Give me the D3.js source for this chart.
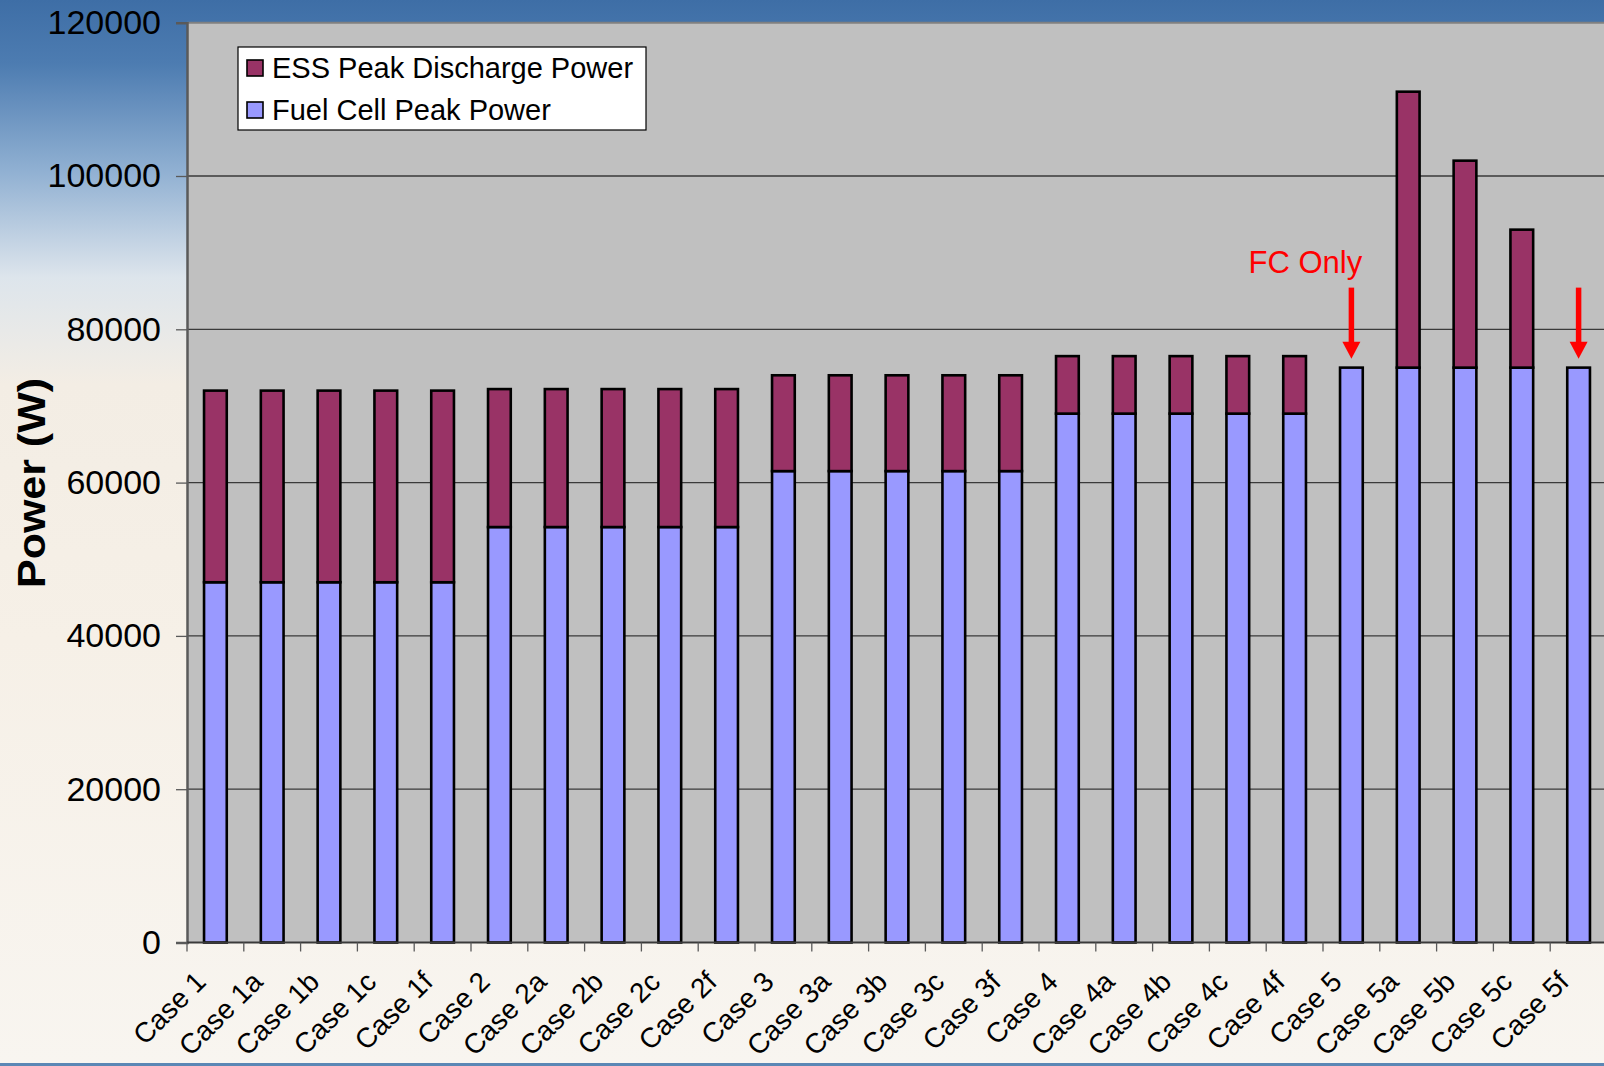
<!DOCTYPE html>
<html>
<head>
<meta charset="utf-8">
<script src="https://cdn.jsdelivr.net/npm/d3@7"></script>
<style>
    html, body { margin: 0; padding: 0; overflow: hidden; }
    svg { display: block; font-family: "Liberation Sans", Arial, sans-serif; }
</style>
</head>
<body>
<div id="chart"></div>
<script>
const categories = [
    'Case 1', 'Case 1a', 'Case 1b', 'Case 1c', 'Case 1f',
    'Case 2', 'Case 2a', 'Case 2b', 'Case 2c', 'Case 2f',
    'Case 3', 'Case 3a', 'Case 3b', 'Case 3c', 'Case 3f',
    'Case 4', 'Case 4a', 'Case 4b', 'Case 4c', 'Case 4f',
    'Case 5', 'Case 5a', 'Case 5b', 'Case 5c', 'Case 5f'
];
const fuelCellPeak = [
    47000, 47000, 47000, 47000, 47000,
    54200, 54200, 54200, 54200, 54200,
    61500, 61500, 61500, 61500, 61500,
    69000, 69000, 69000, 69000, 69000,
    75000, 75000, 75000, 75000, 75000
];
const essPeakDischarge = [
    25000, 25000, 25000, 25000, 25000,
    18000, 18000, 18000, 18000, 18000,
    12500, 12500, 12500, 12500, 12500,
    7500, 7500, 7500, 7500, 7500,
    0, 36000, 27000, 18000, 0
];
const seriesNames = ['Fuel Cell Peak Power', 'ESS Peak Discharge Power'];
const seriesColors = ['#9999ff', '#993366'];
const legendOrder = ['ESS Peak Discharge Power', 'Fuel Cell Peak Power'];
const yTicks = [0, 20000, 40000, 60000, 80000, 100000, 120000];
const fcOnlyCases = ['Case 5', 'Case 5f'];
const fcOnlyLabel = 'FC Only';

const W = 1604, H = 1066;
const plot = { left: 187, top: 22.7, right: 1607, bottom: 942.5 };

const rows = categories.map((c, i) => ({
    category: c,
    'Fuel Cell Peak Power': fuelCellPeak[i],
    'ESS Peak Discharge Power': essPeakDischarge[i]
}));
const stacked = d3.stack().keys(seriesNames)(rows);

const x = d3.scaleBand().domain(categories).range([plot.left, plot.right]);
const y = d3.scaleLinear().domain([0, 120000]).range([plot.bottom, plot.top]);
const color = d3.scaleOrdinal().domain(seriesNames).range(seriesColors);
const barW = x.bandwidth() * 0.4;

const svg = d3.select('#chart').append('svg')
    .attr('width', W)
    .attr('height', H);

// slide background
const defs = svg.append('defs');
const bg = defs.append('linearGradient')
    .attr('id', 'bg')
    .attr('x1', 0).attr('y1', 0).attr('x2', 0).attr('y2', 1);
[[0, '#3e6ea6'], [0.06, '#4d7cb1'], [0.16, '#90b0d2'], [0.26, '#dde5ec'],
 [0.36, '#f3ede4'], [0.6, '#f6f0e7'], [1, '#f8f5f0']].forEach(s =>
    bg.append('stop').attr('offset', s[0]).attr('stop-color', s[1]));

svg.append('rect').attr('width', W).attr('height', H).attr('fill', 'url(#bg)');
svg.append('rect').attr('x', 0).attr('y', H - 3).attr('width', W).attr('height', 3).attr('fill', '#5b87b5');

svg.append('rect')
    .attr('x', plot.left).attr('y', plot.top)
    .attr('width', plot.right - plot.left)
    .attr('height', plot.bottom - plot.top)
    .attr('fill', '#c0c0c0');

// gridlines
svg.append('g')
    .selectAll('line')
    .data(yTicks.slice(1, -1))
    .enter()
    .append('line')
        .attr('x1', plot.left)
        .attr('x2', plot.right)
        .attr('y1', d => y(d))
        .attr('y2', d => y(d))
        .attr('stroke', '#3a3a3a')
        .attr('stroke-width', 1.3);

svg.append('line')
    .attr('x1', plot.left).attr('x2', plot.right)
    .attr('y1', plot.top).attr('y2', plot.top)
    .attr('stroke', '#808080').attr('stroke-width', 2);

// bars
svg.append('g')
    .selectAll('g')
    .data(stacked)
    .enter()
    .append('g')
        .attr('fill', d => color(d.key))
    .selectAll('rect')
    .data(d => d.filter(p => p[1] > p[0]))
    .enter()
    .append('rect')
        .attr('x', d => x(d.data.category) + (x.bandwidth() - barW) / 2)
        .attr('y', d => y(d[1]))
        .attr('width', barW)
        .attr('height', d => y(d[0]) - y(d[1]))
        .attr('stroke', '#000')
        .attr('stroke-width', 2.6);

// y axis
const yAxis = svg.append('g')
    .attr('transform', `translate(${plot.left},0)`)
    .call(d3.axisLeft(y).tickValues(yTicks).tickFormat(d3.format('d')).tickSize(11).tickPadding(15));
yAxis.select('.domain').attr('stroke', '#5a5a5a').attr('stroke-width', 2.5);
yAxis.selectAll('.tick line').attr('stroke', '#5a5a5a').attr('stroke-width', 1.3);
yAxis.selectAll('.tick text')
    .attr('font-size', 34)
    .attr('font-family', '"Liberation Sans", Arial, sans-serif')
    .attr('fill', '#000');

// x axis: ticks sit between the bands
const boundaries = categories.map(c => x(c)).concat([plot.right]);
svg.append('line')
    .attr('x1', plot.left).attr('x2', plot.right)
    .attr('y1', plot.bottom).attr('y2', plot.bottom)
    .attr('stroke', '#3a3a3a').attr('stroke-width', 2);
svg.append('g')
    .selectAll('line')
    .data(boundaries)
    .enter()
    .append('line')
        .attr('x1', d => d).attr('x2', d => d)
        .attr('y1', plot.bottom)
        .attr('y2', plot.bottom + 9)
        .attr('stroke', '#5a5a5a')
        .attr('stroke-width', 1.3);

svg.append('g')
    .selectAll('text')
    .data(categories)
    .enter()
    .append('text')
        .attr('transform', d => `translate(${x(d) + x.bandwidth() / 2 - 8},${plot.bottom + 41}) rotate(-45)`)
        .attr('text-anchor', 'end')
        .attr('font-size', 28)
        .attr('fill', '#000')
        .text(d => d);

// axis title
svg.append('text')
    .attr('transform', `translate(45,483) rotate(-90)`)
    .attr('text-anchor', 'middle')
    .attr('font-size', 39)
    .attr('font-weight', 'bold')
    .attr('textLength', 210)
    .attr('lengthAdjust', 'spacingAndGlyphs')
    .attr('fill', '#000')
    .text('Power (W)');

// legend
const legend = svg.append('g').attr('transform', 'translate(238,47)');
legend.append('rect')
    .attr('width', 408).attr('height', 83)
    .attr('fill', '#fff')
    .attr('stroke', '#000')
    .attr('stroke-width', 1.2);
legendOrder.forEach(function(name, i) {
    legend.append('rect')
        .attr('x', 9).attr('y', 13 + i * 42)
        .attr('width', 16).attr('height', 16)
        .attr('fill', color(name))
        .attr('stroke', '#000')
        .attr('stroke-width', 1.6);
    legend.append('text')
        .attr('x', 34).attr('y', 31 + i * 42)
        .attr('font-size', 29)
        .attr('fill', '#000')
        .text(name);
});

// "FC Only" annotation arrows
const ann = svg.append('g').attr('fill', '#ff0000').attr('stroke', '#ff0000');
fcOnlyCases.forEach(function(c) {
    const i = categories.indexOf(c);
    const cx = x(c) + x.bandwidth() / 2;
    const tip = y(fuelCellPeak[i] + essPeakDischarge[i]) - 9;
    ann.append('line')
        .attr('x1', cx).attr('x2', cx)
        .attr('y1', tip - 71).attr('y2', tip - 14)
        .attr('stroke-width', 5.5);
    ann.append('path')
        .attr('d', `M${cx - 9},${tip - 17} L${cx + 9},${tip - 17} L${cx},${tip} Z`)
        .attr('stroke', 'none');
});
svg.append('text')
    .attr('x', x(fcOnlyCases[0]) + x.bandwidth() / 2 - 46)
    .attr('y', y(75000) - 95)
    .attr('text-anchor', 'middle')
    .attr('font-size', 31)
    .attr('fill', '#ff0000')
    .text(fcOnlyLabel);
</script>
</body>
</html>
